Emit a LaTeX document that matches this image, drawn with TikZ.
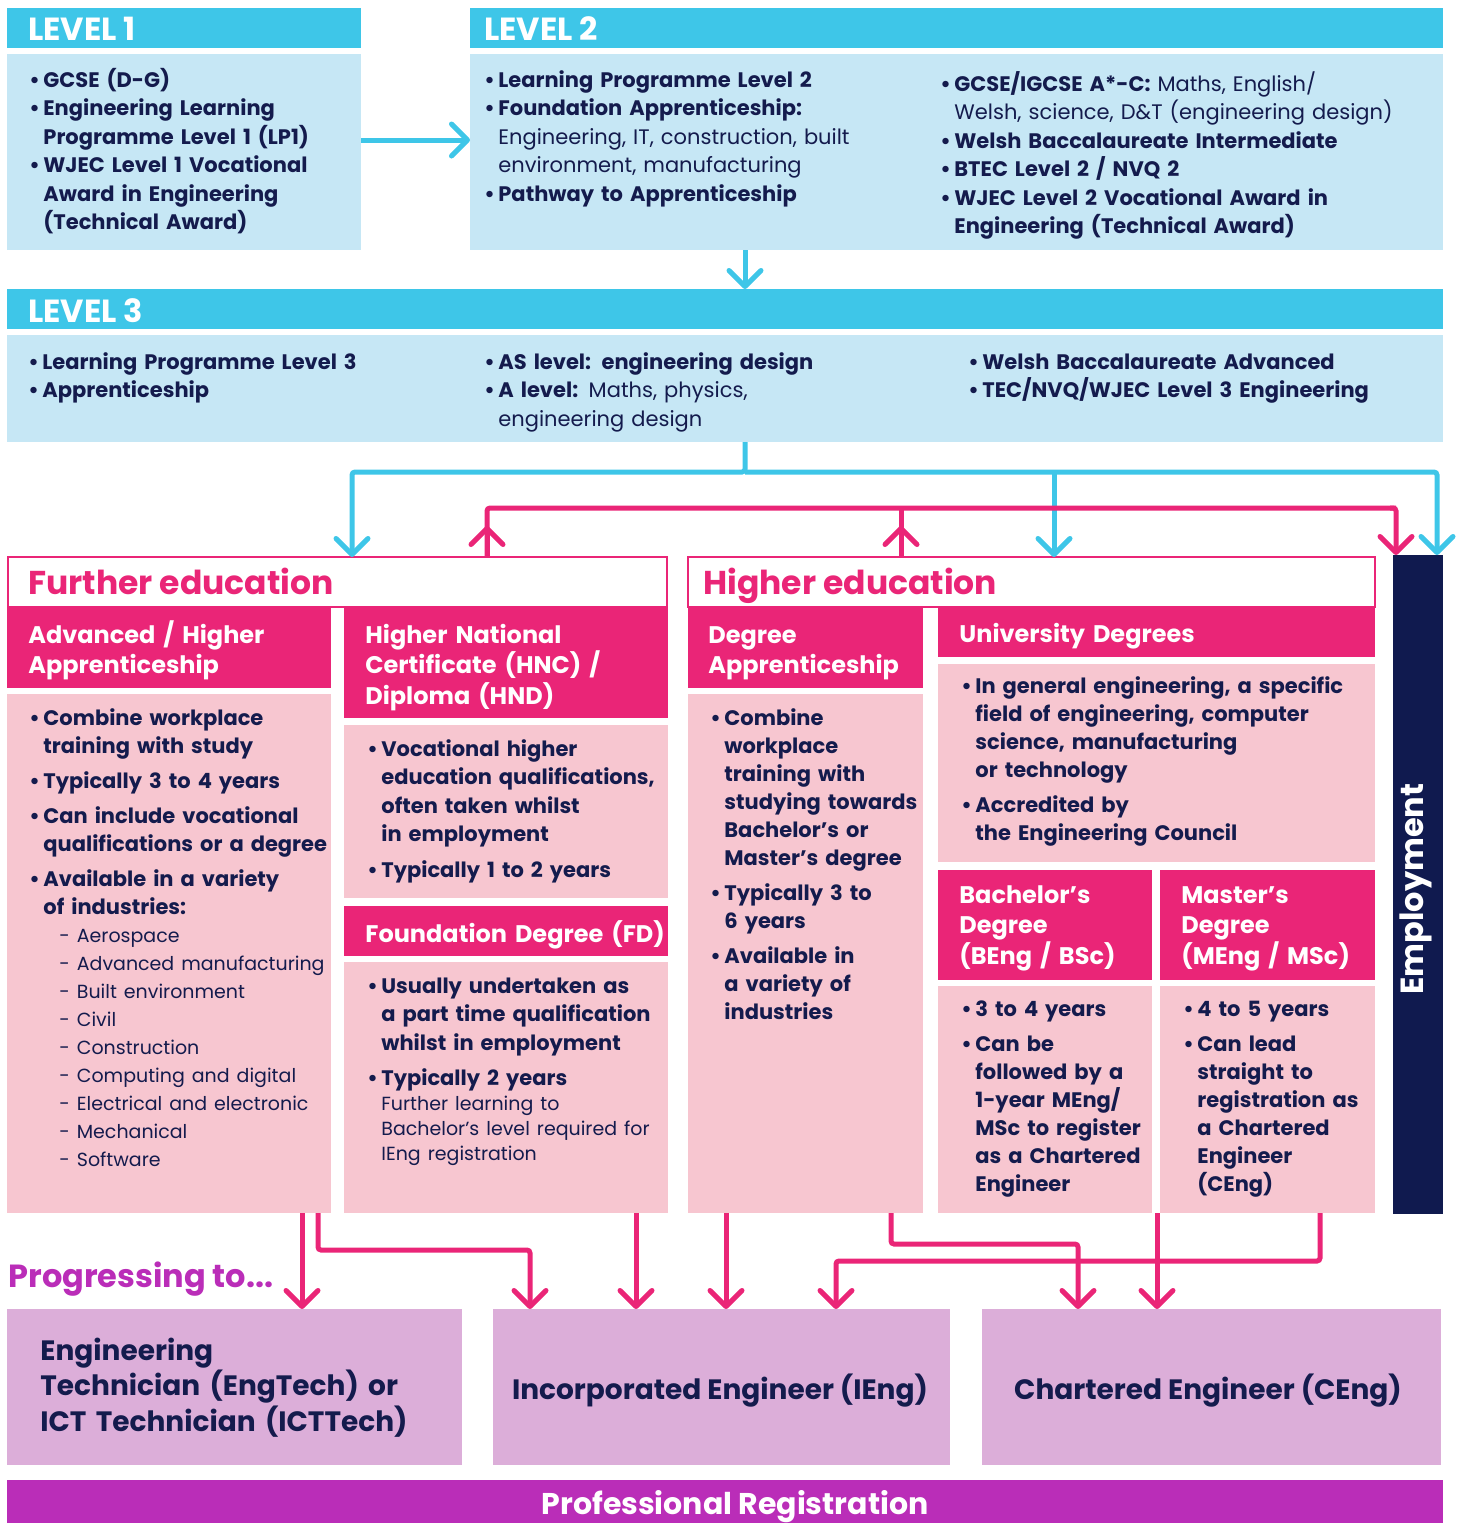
\documentclass[tikz,border=0pt]{standalone}
\usepackage{fontspec}
\setmainfont{Poppins}
\usetikzlibrary{arrows.meta,fit,positioning}

\definecolor{cyanhd}{HTML}{3EC6E8}
\definecolor{cyanbg}{HTML}{C6E7F5}
\definecolor{pinkhd}{HTML}{EA2577}
\definecolor{pinkbg}{HTML}{F7C6D0}
\definecolor{navy}{HTML}{141B4D}
\definecolor{lilac}{HTML}{DCAED9}
\definecolor{purp}{HTML}{BA2DB8}
\definecolor{empl}{HTML}{101A4F}

% bullet items with hanging indent
\newcommand{\firstitm}{\hangindent=7pt\hangafter=1\noindent\makebox[7pt][l]{\textbullet}}
\newcommand{\itm}{\par\firstitm}
\newcommand{\itmsp}{\par\vspace{3.5pt}\firstitm}
\newcommand{\subitm}[1]{\newline\hspace*{8pt}- #1}

\tikzset{
  panel/.style={inner sep=0pt, outer sep=0pt},
  cyanhead/.style={panel, fill=cyanhd},
  cyanbody/.style={panel, fill=cyanbg},
  pinkhead/.style={panel, fill=pinkhd},
  pinkbody/.style={panel, fill=pinkbg},
  sector/.style={panel, fill=white, draw=pinkhd, line width=1pt},
  goal/.style={panel, fill=lilac},
  levtxt/.style={anchor=base west, inner sep=0pt, text=white, font=\fontsize{16}{19}\selectfont\bfseries},
  sectxt/.style={anchor=base west, inner sep=0pt, text=pinkhd, font=\fontsize{16.5}{20}\selectfont\bfseries},
  headtxt/.style={anchor=base west, inner sep=0pt, text=white, align=left, text width=160pt, font=\fontsize{12}{15.25}\selectfont\bfseries},
  bodytxt/.style={anchor=base west, inner sep=0pt, text=navy, align=left, font=\fontsize{10.5}{14.25}\selectfont\bfseries},
  goaltxt/.style={inner sep=0pt, text=navy, font=\fontsize{14}{17.75}\selectfont\bfseries},
  pinkline/.style={draw=pinkhd, line width=2.5pt, rounded corners=1.5pt},
  flow/.style={line width=2.5pt, rounded corners=1.5pt, -{Straight Barb[length=8pt,width=16pt,round]}},
  cyanflow/.style={flow, draw=cyanhd},
  pinkflow/.style={flow, draw=pinkhd},
}

\begin{document}
\begin{tikzpicture}[x=0.5pt, y=-0.5pt]
\useasboundingbox (0,0) rectangle (1461,1523);

% levels
\node[cyanhead, fit={(7,8) (361,48)}] (l1head) {};
\node[cyanbody, fit={(7,54) (361,250)}] (l1body) {};
\node[cyanhead, fit={(470,8) (1443,48)}] (l2head) {};
\node[cyanbody, fit={(470,54) (1443,250)}] (l2body) {};
\node[cyanhead, fit={(7,289) (1443,329)}] (l3head) {};
\node[cyanbody, fit={(7,335) (1443,442)}] (l3body) {};

\node[levtxt] (l1title) at (28,40) {LEVEL 1};
\node[levtxt] (l2title) at (484,40) {LEVEL 2};
\node[levtxt] (l3title) at (28,322) {LEVEL 3};

\node[bodytxt, text width=165pt] (l1text) at (29,87) {\firstitm GCSE (D-G)\itm Engineering Learning\newline Programme Level 1 (LP1)\itm WJEC Level 1 Vocational\newline Award in Engineering\newline (Technical Award)\par};
\node[bodytxt, text width=220pt] (l2left) at (484,87) {\firstitm Learning Programme Level 2\itm Foundation Apprenticeship:\newline {\mdseries Engineering, IT, construction, built\newline environment, manufacturing}\itm Pathway to Apprenticeship\par};
\node[bodytxt, text width=250pt] (l2right) at (940,91) {\firstitm GCSE/IGCSE A*-C: {\mdseries Maths, English/\newline Welsh, science, D\&T (engineering design)}\itm Welsh Baccalaureate Intermediate\itm BTEC Level 2 / NVQ 2\itm WJEC Level 2 Vocational Award in\newline Engineering (Technical Award)\par};

\node[bodytxt, text width=225pt] (l3a) at (28,369) {\firstitm Learning Programme Level 3\itm Apprenticeship\par};
\node[bodytxt, text width=235pt] (l3b) at (484,369) {\firstitm AS level: engineering design\itm A level: {\mdseries Maths, physics,\newline engineering design}\par};
\node[bodytxt, text width=235pt] (l3c) at (968,369) {\firstitm Welsh Baccalaureate Advanced\itm TEC/NVQ/WJEC Level 3 Engineering\par};

% further and higher education
\node[sector, fit={(8,557) (667,607)}] (further) {};
\node[sector, fit={(688,557) (1375,607)}] (higher) {};
\node[sectxt] (furthertxt) at (28,594) {Further education};
\node[sectxt] (highertxt) at (703,594) {Higher education};

\node[pinkhead, fit={(7,607) (331,688)}] (apphead) {};
\node[pinkbody, fit={(7,694) (331,1213)}] (appbody) {};
\node[pinkhead, fit={(344,607) (668,718)}] (hnchead) {};
\node[pinkbody, fit={(344,725) (668,898)}] (hncbody) {};
\node[pinkhead, fit={(344,906) (668,956)}] (fdhead) {};
\node[pinkbody, fit={(344,962) (668,1213)}] (fdbody) {};
\node[pinkhead, fit={(688,607) (923,688)}] (dahead) {};
\node[pinkbody, fit={(688,694) (923,1213)}] (dabody) {};
\node[pinkhead, fit={(938,607) (1375,657)}] (unihead) {};
\node[pinkbody, fit={(938,664) (1375,862)}] (unibody) {};
\node[pinkhead, fit={(938,870) (1152,980)}] (bachead) {};
\node[pinkbody, fit={(938,986) (1152,1213)}] (bacbody) {};
\node[pinkhead, fit={(1160,870) (1375,980)}] (mashead) {};
\node[pinkbody, fit={(1160,986) (1375,1213)}] (masbody) {};
\node[panel, fill=empl, fit={(1393,555) (1443,1214)}] (employ) {};

\node[headtxt] (apptitle) at (28,643) {Advanced / Higher\newline Apprenticeship};
\node[headtxt] (hnctitle) at (365,643) {Higher National\newline Certificate (HNC) /\newline Diploma (HND)};
\node[headtxt] (fdtitle) at (365,942) {Foundation Degree (FD)};
\node[headtxt] (datitle) at (708,643) {Degree\newline Apprenticeship};
\node[headtxt] (unititle) at (959,642) {University Degrees};
\node[headtxt, text width=100pt] (bactitle) at (959,903) {Bachelor's\newline Degree\newline (BEng / BSc)};
\node[headtxt, text width=100pt] (mastitle) at (1181,903) {Master's\newline Degree\newline (MEng / MSc)};

\node[bodytxt, text width=152pt, font=\fontsize{10.5}{14}\selectfont\bfseries] (apptext) at (29,725) {\firstitm Combine workplace\newline training with study\itmsp Typically 3 to 4 years\itmsp Can include vocational\newline qualifications or a degree\itmsp Available in a variety\newline of industries:{\mdseries\fontsize{9.5}{14}\selectfont\subitm{Aerospace}\subitm{Advanced manufacturing}\subitm{Built environment}\subitm{Civil}\subitm{Construction}\subitm{Computing and digital}\subitm{Electrical and electronic}\subitm{Mechanical}\subitm{Software}}\par};
\node[bodytxt, text width=152pt] (hnctext) at (367,756) {\firstitm Vocational higher\newline education qualifications,\newline often taken whilst\newline in employment\itmsp Typically 1 to 2 years\par};
\node[bodytxt, text width=152pt] (fdtext) at (367,993) {\firstitm Usually undertaken as\newline a part time qualification\newline whilst in employment\itmsp Typically 2 years\par\hangindent=7pt\hangafter=0\noindent{\mdseries\fontsize{9.5}{12.5}\selectfont Further learning to\newline Bachelor's level required for\newline IEng registration\par}};
\node[bodytxt, text width=108pt, font=\fontsize{10.5}{14}\selectfont\bfseries] (datext) at (710,725) {\firstitm Combine\newline workplace\newline training with\newline studying towards\newline Bachelor's or\newline Master's degree\itmsp Typically 3 to\newline 6 years\itmsp Available in\newline a variety of\newline industries\par};
\node[bodytxt, text width=208pt, font=\fontsize{10.5}{14}\selectfont\bfseries] (unitext) at (961,693) {\firstitm In general engineering, a specific\newline field of engineering, computer\newline science, manufacturing\newline or technology\itmsp Accredited by\newline the Engineering Council\par};
\node[bodytxt, text width=96pt, font=\fontsize{10.5}{14}\selectfont\bfseries] (bactext) at (961,1016) {\firstitm 3 to 4 years\itmsp Can be\newline followed by a\newline 1-year MEng/\newline MSc to register\newline as a Chartered\newline Engineer\par};
\node[bodytxt, text width=96pt, font=\fontsize{10.5}{14}\selectfont\bfseries] (mastext) at (1183,1016) {\firstitm 4 to 5 years\itmsp Can lead\newline straight to\newline registration as\newline a Chartered\newline Engineer\newline (CEng)\par};

\node[rotate=90, inner sep=0pt, text=white, font=\fontsize{16}{19}\selectfont\bfseries] (employtxt) at (1416,889) {Employment};

% progressing to
\node[anchor=base west, inner sep=0pt, text=purp, font=\fontsize{16}{19}\selectfont\bfseries] (progress) at (8,1287) {Progressing to...};
\node[goal, fit={(7,1309) (462,1465)}] (engtech) {};
\node[goal, fit={(493,1309) (950,1465)}] (ieng) {};
\node[goal, fit={(982,1309) (1441,1465)}] (ceng) {};
\node[goaltxt, anchor=base west, align=left, text width=205pt] (engtechtxt) at (40,1360) {Engineering\newline Technician (EngTech) or\newline ICT Technician (ICTTech)};
\node[goaltxt] (iengtxt) at (720,1391) {Incorporated Engineer (IEng)};
\node[goaltxt] (cengtxt) at (1208,1391) {Chartered Engineer (CEng)};

\node[panel, fill=purp, fit={(7,1480) (1443,1523)}] (profreg) {};
\node[inner sep=0pt, text=white, font=\fontsize{15}{18}\selectfont\bfseries] (profregtxt) at (735,1507) {Professional Registration};

% cyan connectors
\draw[cyanflow] (l1body.east |- 0,140) -- (l2body.west |- 0,140);
\draw[cyanflow] (l2body.south -| 745,0) -- (l3head.north -| 745,0);
\draw[cyanflow] (l3body.south -| 745,0) -- (745,472) -- (352,472) -- (further.north -| 352,0);
\draw[cyanflow] (745,472) -- (1437,472) -- (employ.north -| 1437,0);
\draw[cyanflow] (1054,472) -- (higher.north -| 1054,0);

% pink connectors to employment
\draw[pinkline] (further.north -| 487,0) -- (487,508) -- (1396,508);
\draw[pinkflow] (1390,508) -- (1396,508) -- (employ.north -| 1396,0);
\draw[pinkflow] (further.north -| 487,0) -- (487,526);
\draw[pinkline] (higher.north -| 901,0) -- (901,508);
\draw[pinkflow] (higher.north -| 901,0) -- (901,526);

% pink connectors to registration
\draw[pinkflow] (appbody.south -| 302,0) -- (engtech.north -| 302,0);
\draw[pinkflow] (appbody.south -| 318,0) -- (318,1250) -- (530,1250) -- (ieng.north -| 530,0);
\draw[pinkflow] (fdbody.south -| 636,0) -- (ieng.north -| 636,0);
\draw[pinkflow] (dabody.south -| 726,0) -- (ieng.north -| 726,0);
\draw[pinkflow] (dabody.south -| 891,0) -- (891,1244) -- (1078,1244) -- (ceng.north -| 1078,0);
\draw[pinkflow] (masbody.south -| 1320,0) -- (1320,1261) -- (836,1261) -- (ieng.north -| 836,0);
\draw[pinkflow] (bacbody.south -| 1157,0) -- (ceng.north -| 1157,0);

\end{tikzpicture}
\end{document}
